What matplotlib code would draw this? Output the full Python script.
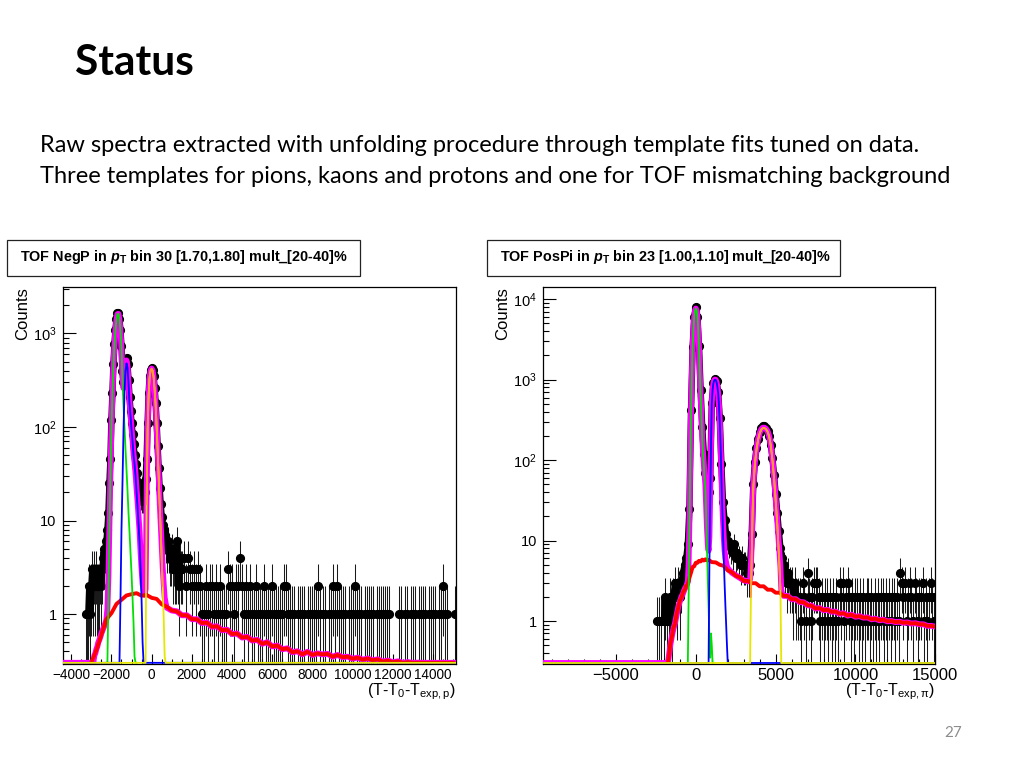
import numpy as np
import matplotlib
matplotlib.use("Agg")
import matplotlib.pyplot as plt
from matplotlib.patches import Rectangle
from matplotlib.ticker import FixedLocator, MultipleLocator, LogLocator, FuncFormatter, NullFormatter

plt.rcParams['font.family'] = ['Liberation Sans', 'DejaVu Sans']
plt.rcParams['mathtext.fontset'] = 'custom'
plt.rcParams['mathtext.rm'] = 'Liberation Sans'
plt.rcParams['mathtext.it'] = 'Liberation Sans:italic:bold'
plt.rcParams['mathtext.bf'] = 'Liberation Sans:bold'

# ---------------- left panel: TOF NegP, pT bin 30 ----------------
# data counts, 50 wide bins starting at -3300
neg_core_y = [0, 1, 1, 1, 2, 1, 2, 3, 2, 3,
              2, 3, 2, 2, 2, 3, 2, 3, 4, 5,
              5, 6, 8, 12, 25, 45, 120, 230, 470, 770,
              1100, 1420, 1650, 1640, 1420, 1080, 740, 400, 300, 360,
              490, 550, 470, 320, 210, 150, 110, 85, 65, 50,
              40, 32, 26, 22, 19, 17, 16, 16, 17, 20,
              28, 45, 110, 230, 350, 410, 430, 410, 350, 260,
              180, 110, 62, 36, 22, 15, 11, 9, 8, 7,
              6, 5, 6, 5, 4, 4, 5, 3, 4, 3,
              3, 6, 3, 2, 4, 3]
# data counts, 100 wide bins starting at 1500
neg_tail_y = [int(c) for c in
              "3424323232" "1121221212" "1113221224" "2121211211" "1211121111"
              "1221111011" "1101111121" "1101121211" "1101112111" "0111110111"
              "1111000011" "0110111011" "1101111011" "2110001"]

# template fit components
neg_green_y = [0.005, 0.02, 0.2, 1.5, 8, 30, 100, 220, 460, 760,
               1100, 1400, 1610, 1620, 1400, 1050, 700, 320, 170, 100,
               58, 35, 21, 12, 7.5, 4.5, 2.7, 1.5, 0.8, 0.35,
               0.2, 0.1]                       # -2300 .. -750
neg_blue_y = [0.01, 0.1, 1.4, 8, 25, 90, 230, 400, 480, 430,
              290, 180, 130, 95, 70, 50, 40, 30, 20, 14,
              9, 6, 3, 1.4, 0.5, 0.2, 0.05]     # -1650 .. -350
neg_prot_y = [0.01, 0.05, 0.3, 15, 95, 220, 340, 400, 420, 400,
              340, 250, 170, 100, 55, 30, 15, 8, 4, 2,
              0.9, 0.35, 0.1]                   # -400 .. 700
neg_red_y = [0.1, 0.41, 0.6, 0.88, 1.02, 1.28, 1.42, 1.58, 1.63, 1.67,
             1.57, 1.6, 1.49, 1.45, 1.27, 1.2, 1.09, 1.07, 0.97, 0.97,
             0.88, 0.88, 0.8, 0.81, 0.73, 0.74, 0.67, 0.68, 0.61, 0.62,
             0.56, 0.57, 0.52, 0.53, 0.48, 0.5, 0.45, 0.46, 0.42, 0.43,
             0.39, 0.4, 0.37, 0.395, 0.365, 0.38, 0.37, 0.375, 0.35, 0.365,
             0.345, 0.35, 0.333, 0.342, 0.325, 0.335, 0.32, 0.328, 0.31, 0.318,
             0.305, 0.312, 0.3, 0.306, 0.298, 0.302, 0.296, 0.3, 0.294, 0.297,
             0.293, 0.295, 0.292]               # -3000 .. 15000 step 250
neg_total_y = [0.05, 0.1, 0.22, 0.3, 0.36, 0.38, 0.42, 0.45, 0.5, 0.53,
               0.57, 0.62, 0.66, 0.7, 0.75, 0.8, 0.87, 1.15, 2.5, 9,
               31, 101, 221, 461, 761, 1100, 1400, 1610, 1620, 1400,
               1050, 710, 345, 260, 330, 460, 515, 450, 300, 190,
               135, 99, 73, 52, 42, 32, 22, 16, 11, 7.6,
               4.6, 3.0, 2.1, 1.8, 1.6, 1.85, 16.5, 97, 222, 342,
               402, 422, 402, 342, 251, 171, 101, 56, 31, 16,
               9.3, 5.2, 3.2, 2.1, 1.5, 1.3, 1.17]  # -3050 .. 750

# ---------------- right panel: TOF PosPi, pT bin 23 ----------------
pos_core_y = [1, 1, 1, 0, 1, 2, 1, 1, 2, 1,
              2, 3, 2, 3, 2, 3, 4, 5, 6, 9,
              25, 420, 2550, 6100, 8000, 6100, 2600, 750, 260, 120,
              70, 45, 40, 60, 520, 920, 1020, 950, 700, 330,
              90, 30, 18, 12, 10, 9, 8, 7, 9, 6,
              7, 6, 5, 6, 5, 5, 4, 4, 5, 12,
              50, 95, 140, 185, 222, 250, 262, 262, 252, 232,
              200, 155, 105, 65, 38, 22, 13, 8, 6, 5,
              4, 3, 4, 3, 3, 2, 3, 2, 2]        # 100 wide bins from -2400
pos_tail_y = [int(c) for c in
              "2132142123" "3321212212" "1212132312" "3212122121" "2122121212"
              "1221212122" "1214323123" "2132122312" "123212"]  # from 6500

pos_green_y = [0.01, 0.2, 2, 15, 100, 400, 1100, 2500, 4300, 6000,
               7200, 7660, 7200, 6000, 4300, 2500, 1200, 650, 350, 190,
               120, 85, 60, 42, 20, 8, 3.2, 1.5, 0.6, 0.35,
               0.7, 0.5, 0.1, 0.01]             # -550 .. 1100
pos_blue_y = [0.01, 0.3, 5, 30, 150, 500, 750, 900, 980, 1000,
              990, 930, 820, 680, 480, 300, 150, 65, 28, 13,
              6, 3, 1.6, 0.9, 0.5, 0.3, 0.1, 0.01]   # 750 .. 2100
pos_prot_x = [-9500, 3300, 3400, 3450, 3500, 3550, 3600, 3700, 3800, 3900, 4000,
              4100, 4200, 4300, 4400, 4500, 4600, 4700, 4800, 4900, 5000,
              5100, 5200, 5300, 5350, 5400, 15000]
pos_prot_y = [0, 0.05, 0.3, 2, 6, 20, 45, 90, 135, 180, 215,
              240, 250, 250, 242, 225, 195, 150, 100, 60, 32,
              16, 7, 2.5, 0.3, 0.05, 0]
pos_red_x = np.concatenate([[-1750], np.arange(-1700, 900, 100), np.arange(1000, 15250, 250)])
pos_red_y = [0.1,
             0.35, 0.52, 0.63, 0.83, 0.93, 1.23, 1.46, 1.8, 1.95, 2.25,
             2.45, 2.75, 2.85, 3.45, 4.0, 4.7, 4.8, 5.3, 5.3, 5.6,
             5.5, 5.8, 5.65, 5.85, 5.7, 5.75,
             5.4, 5.35, 5.0, 4.85, 4.25, 4.05, 3.65, 3.5, 3.15, 3.15,
             2.95, 2.95, 2.7, 2.7, 2.45, 2.45, 2.25, 2.25, 2.05, 2.05,
             1.86, 1.87, 1.72, 1.71, 1.57, 1.55, 1.43, 1.45, 1.36, 1.38,
             1.3, 1.31, 1.23, 1.25, 1.17, 1.2, 1.13, 1.15, 1.1, 1.11,
             1.05, 1.07, 1.02, 1.04, 0.99, 1.0, 0.97, 0.98, 0.95, 0.96,
             0.93, 0.94, 0.91, 0.91, 0.87, 0.87, 0.85]
pos_total_x = [-9500, -1750, -1700, -1600, -1500, -1400, -1300, -1200, -1100, -1000,
               -900, -800, -700, -600, -500, -450, -400, -350, -300, -250,
               -200, -150, -100, -50, 0, 50, 100, 150, 200, 250,
               300, 350, 400, 450, 500, 550, 600, 650, 700, 750,
               800, 850, 900, 950, 1000, 1050, 1100, 1150, 1200, 1250,
               1300, 1350, 1400, 1450, 1500, 1550, 1600, 1650, 1700, 1750,
               1800, 1850, 1900, 1950, 2000, 2250, 2500, 2750, 3000, 3250,
               3400, 3450, 3500, 3550, 3600, 3700, 3800, 3900, 4000, 4100,
               4200, 4300, 4400, 4500, 4600, 4700, 4800, 4900, 5000, 5100,
               5200, 5300, 5350, 5400]
pos_total_y = [0, 0.1, 0.35, 0.5, 0.65, 0.8, 0.95, 1.2, 1.5, 1.75,
               2.0, 2.2, 2.5, 2.7, 3.1, 5.2, 18, 104, 404, 1104,
               2505, 4305, 6005, 7205, 7665, 7205, 6005, 4305, 2505, 1205,
               656, 356, 196, 126, 91, 66, 48, 26, 14, 9,
               7.5, 11, 36, 156, 506, 755, 905, 985, 1005, 995,
               935, 825, 685, 485, 305, 155, 70, 33, 18, 11,
               7.6, 6.1, 5.3, 4.8, 4.5, 4.0, 3.7, 3.45, 3.2, 3.1,
               3.3, 5, 9, 23, 48, 93, 138, 183, 218, 243,
               253, 253, 245, 228, 197, 152, 102, 62, 34, 18,
               9.2, 4.7, 2.5, 2.2]

# bin / sample positions
neg_core_x = -3300 + 50 * np.arange(len(neg_core_y))
neg_tail_x = 1500 + 100 * np.arange(len(neg_tail_y))
neg_green_x = -2300 + 50 * np.arange(len(neg_green_y))
neg_blue_x = np.concatenate([[-4400], -1650 + 50 * np.arange(len(neg_blue_y)), [15100]])
neg_blue_y = [0] + neg_blue_y + [0]
neg_prot_x = np.concatenate([[-4400], -400 + 50 * np.arange(len(neg_prot_y)), [15100]])
neg_prot_y = [0] + neg_prot_y + [0]
neg_red_x = -3000 + 250 * np.arange(len(neg_red_y))
neg_total_x = np.concatenate([[-4400], -3050 + 50 * np.arange(len(neg_total_y))])
neg_total_y = [0] + neg_total_y

pos_core_x = -2400 + 100 * np.arange(len(pos_core_y))
pos_tail_x = 6500 + 100 * np.arange(len(pos_tail_y))
pos_green_x = -550 + 50 * np.arange(len(pos_green_y))
pos_blue_x = np.concatenate([[-9500], 750 + 50 * np.arange(len(pos_blue_y)), [15000]])
pos_blue_y = [0] + pos_blue_y + [0]


def ytick_label(v, pos):
    n = int(round(np.log10(v)))
    if n == 0:
        return "1"
    if n == 1:
        return "10"
    return r"10$^{%d}$" % n


def draw_panel(ax, core_x, core_y, tail_x, tail_y, green, blue, prot, red, total, ylim, xsize):
    ymin = ylim[0]
    x = np.concatenate([core_x, tail_x]).astype(float)
    n = np.concatenate([core_y, tail_y]).astype(float)
    ok = n > 0
    x, n = x[ok], n[ok]
    lo = np.maximum(n - np.sqrt(n), 1e-3)
    hi = n + np.sqrt(n)
    ax.vlines(x, lo, hi, color="#1a1a1a", lw=0.75, zorder=1)
    cx = np.asarray(core_x, float)
    cy = np.asarray(core_y, float)
    m = cy > 0
    ax.plot(cx[m], cy[m], "-", color="black", lw=4.6, zorder=2, solid_capstyle="round",
            solid_joinstyle="round")
    ax.plot(x, n, "o", color="black", ms=5.6, zorder=2)

    def fit(xv, yv, col, lw, z):
        yv = np.clip(np.asarray(yv, float), ymin * 1.03, None)
        ax.plot(xv, yv, "-", color=col, lw=lw, zorder=z, solid_joinstyle="round")

    rx, ry = np.asarray(red[0], float), np.asarray(red[1], float)
    tx, ty = np.asarray(total[0], float), np.asarray(total[1], float)
    tail = rx > tx[-1]
    fit(np.concatenate([tx, rx[tail]]), np.concatenate([ty, ry[tail]]), "#ff00ff", 4.2, 3)
    fit(rx, ry, "#ff0000", 2.8, 4)
    fit(green[0], green[1], "#00e000", 1.3, 5)
    fit(blue[0], blue[1], "#0000ff", 1.3, 5)
    fit(prot[0], prot[1], "#e6e600", 1.3, 5.5)
    px, py = np.asarray(prot[0], float), np.asarray(prot[1], float)
    up = py >= 2
    fit(px[up], py[up], "#ff9933", 1.3, 6)

    ax.set_yscale("log")
    ax.set_ylim(*ylim)
    ax.yaxis.set_major_locator(LogLocator(base=10))
    ax.yaxis.set_minor_locator(LogLocator(base=10, subs=np.arange(2, 10)))
    ax.yaxis.set_major_formatter(FuncFormatter(ytick_label))
    ax.yaxis.set_minor_formatter(NullFormatter())
    ax.tick_params(axis="both", which="both", direction="in", top=False, right=False,
                   width=0.8, colors="black")
    ax.tick_params(axis="y", which="major", length=9, pad=4.5, labelsize=10.5)
    ax.tick_params(axis="y", which="minor", length=4.5)
    ax.tick_params(axis="x", which="major", length=7, pad=3, labelsize=xsize)
    ax.tick_params(axis="x", which="minor", length=3.5)
    for s in ax.spines.values():
        s.set_linewidth(0.9)


fig = plt.figure(figsize=(10.24, 7.68), dpi=100)

ax1 = fig.add_axes([0.0615, 0.1354, 0.3838, 0.4909])
draw_panel(ax1, neg_core_x, neg_core_y, neg_tail_x, neg_tail_y,
           (neg_green_x, neg_green_y), (neg_blue_x, neg_blue_y),
           (neg_prot_x, neg_prot_y), (neg_red_x, neg_red_y),
           (neg_total_x, neg_total_y), (0.292, 3140), 9.8)
ax1.set_xlim(-4410, 15140)
ax1.xaxis.set_major_locator(FixedLocator(np.arange(-4000, 14001, 2000)))
ax1.xaxis.set_minor_locator(MultipleLocator(500))

ax2 = fig.add_axes([0.5306, 0.1354, 0.3828, 0.4909])
draw_panel(ax2, pos_core_x, pos_core_y, pos_tail_x, pos_tail_y,
           (pos_green_x, pos_green_y), (pos_blue_x, pos_blue_y),
           (pos_prot_x, pos_prot_y), (pos_red_x, pos_red_y),
           (pos_total_x, pos_total_y), (0.292, 14200), 12)
ax2.set_xlim(-9550, 15000)
ax2.xaxis.set_major_locator(FixedLocator([-5000, 0, 5000, 10000, 15000]))
ax2.xaxis.set_minor_locator(MultipleLocator(1000))

# panel title boxes
for x0, title in [(0.0068, r"TOF NegP in $\mathit{p}_{\mathbf{T}}$ bin 30 [1.70,1.80] mult_[20-40]%"),
                  (0.4756, r"TOF PosPi in $\mathit{p}_{\mathbf{T}}$ bin 23 [1.00,1.10] mult_[20-40]%")]:
    fig.patches.append(Rectangle((x0, 0.6406), 0.3447, 0.0469, transform=fig.transFigure,
                                 fill=False, edgecolor="#222222", lw=0.9))
    fig.text(x0 + 0.0127, 0.665, title, fontsize=10.4, fontweight="bold", va="center", ha="left")

fig.text(0.0225, 0.6263, "Counts", rotation=90, ha="center", va="top", fontsize=12)
fig.text(0.4905, 0.6263, "Counts", rotation=90, ha="center", va="top", fontsize=12)
fig.text(0.4453, 0.099, r"(T-T$_{0}$-T$_{\mathrm{exp,p}}$)", ha="right", va="center", fontsize=11.5)
fig.text(0.9130, 0.099, r"(T-T$_{0}$-T$_{\mathrm{exp,π}}$)", ha="right", va="center", fontsize=11.5)

# slide text
slide_font = ["Lato", "DejaVu Sans"]
fig.text(0.0732, 0.9023, "Status", family=slide_font, fontweight="bold", fontsize=30.5, va="baseline")
fig.text(0.039, 0.8021, "Raw spectra extracted with unfolding procedure through template fits tuned on data.",
         family=slide_font, fontsize=17, va="baseline")
fig.text(0.039, 0.7617, "Three templates for pions, kaons and protons and one for TOF mismatching background",
         family=slide_font, fontsize=17, va="baseline")
fig.text(0.9307, 0.0456, "27", family=slide_font, fontsize=11, color="#8c8c8c", ha="center", va="center")

fig.savefig("out.png", dpi=100)
